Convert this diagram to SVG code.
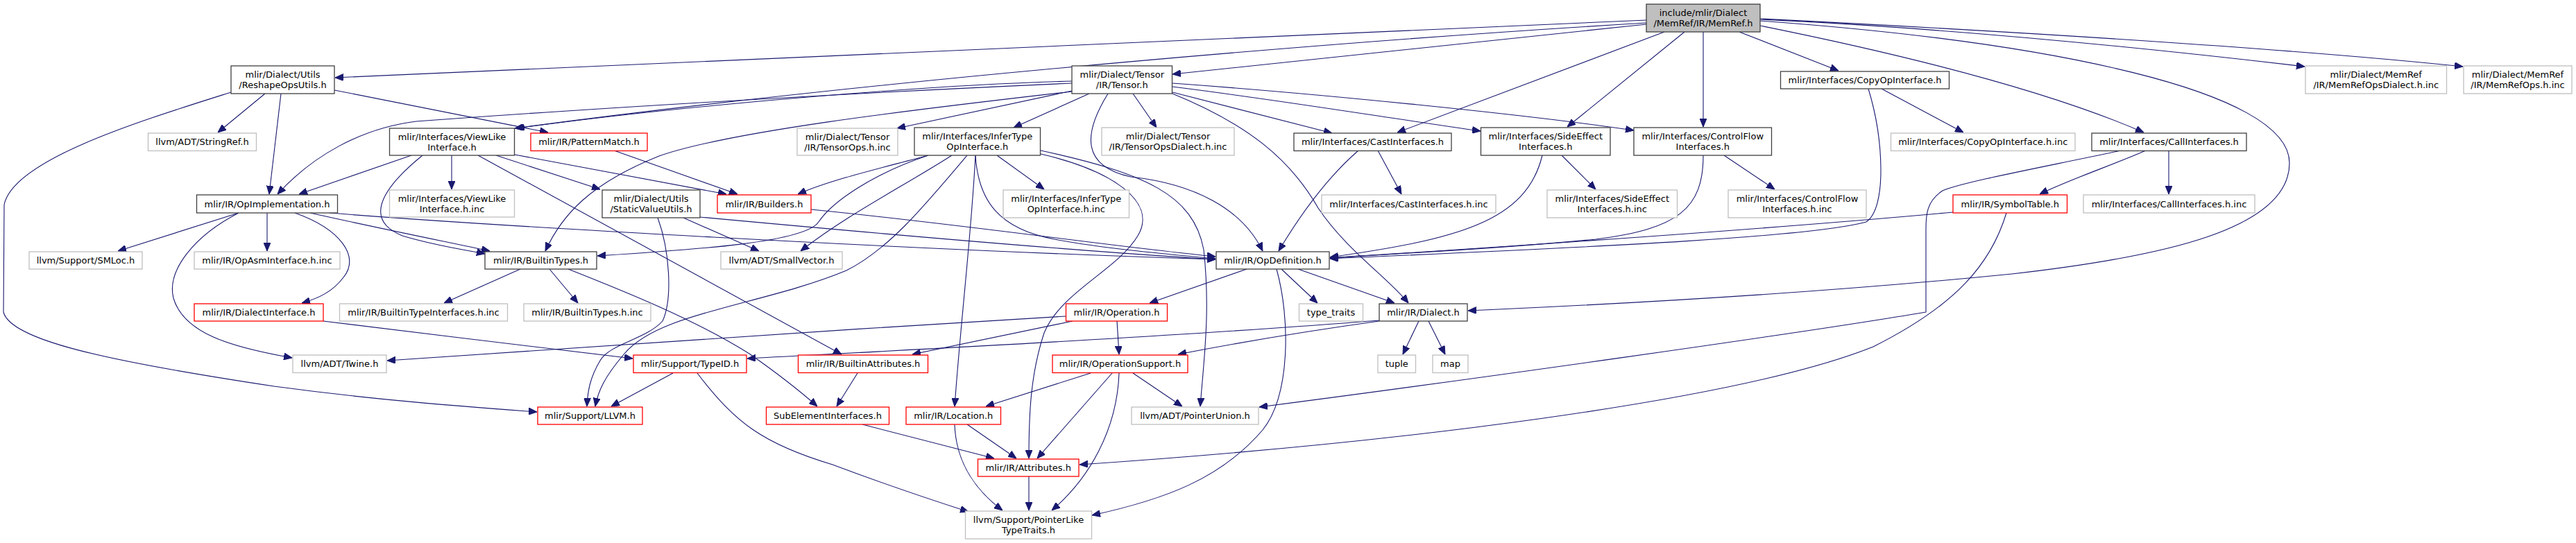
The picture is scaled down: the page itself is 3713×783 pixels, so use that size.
<svg xmlns="http://www.w3.org/2000/svg" width="3713" height="783" viewBox="0 0 3713 783">
<style>
.n rect{fill:#fff;stroke:#404040;stroke-width:1.3}
.n.g rect{stroke:#BFBFBF}
.n.r rect{stroke:#FF0000}
.n.root rect{fill:#BFBFBF}
text{font-family:"DejaVu Sans",sans-serif;font-size:13px;fill:#000;text-anchor:middle}
#edges path{fill:none;stroke:#191970;stroke-width:1.1;marker-end:url(#a)}
</style>
<defs>
<marker id="a" markerUnits="userSpaceOnUse" markerWidth="12" markerHeight="10" refX="12" refY="5" orient="auto" viewBox="0 0 12 10">
<path d="M0,0 L12,5 L0,10 z" fill="#191970" stroke="#191970" stroke-width="1"/>
</marker>
</defs>
<rect width="3713" height="783" fill="#fff"/>
<g id="edges">
<path d="M2373,29 L483,112"/>
<path d="M2373,35 L1690,107"/>
<path d="M2373,33 C2000,55 1300,110 742,185"/>
<path d="M2399,46 L2014,191"/>
<path d="M2428,46 L2259,183"/>
<path d="M2455,46 L2455,183"/>
<path d="M2507,46 L2650,102"/>
<path d="M2537,37 C2750,80 2950,130 3090,191"/>
<path d="M2537,30 C2950,60 3300,130 3300,235 C3300,330 3120,370 2900,395 C2600,425 2300,440 2116,448"/>
<path d="M2537,28 C2800,40 3100,70 3322,96"/>
<path d="M2537,27 C2900,45 3300,70 3550,96"/>
<path d="M1545,131 L1293,185"/>
<path d="M1570,135 L1461,184"/>
<path d="M1633,135 L1667,184"/>
<path d="M1597,135 C1560,195 1560,240 1630,255 C1720,265 1790,300 1820,362"/>
<path d="M1690,135 C1800,180 1860,230 1900,300 C1940,360 2000,400 2030,437"/>
<path d="M1690,120 C1900,135 2200,165 2355,188"/>
<path d="M1690,125 C1850,145 2000,170 2134,189"/>
<path d="M1690,133 L1920,192"/>
<path d="M1545,117 C1350,122 1000,150 744,185"/>
<path d="M1545,120 C1200,135 800,160 600,175 C520,185 450,225 400,280"/>
<path d="M1545,132 C1300,160 1050,190 950,225 C850,265 810,310 786,362"/>
<path d="M1338,224 C1280,240 1200,258 1150,280"/>
<path d="M1338,224 C1260,250 1200,290 1180,320 C1160,350 1000,360 861,369"/>
<path d="M1372,224 C1300,270 1220,310 1154,362"/>
<path d="M1394,224 C1330,300 1280,360 1220,390 C1100,440 950,450 900,510 C870,545 862,565 858,586"/>
<path d="M1406,224 C1400,340 1385,460 1376,586"/>
<path d="M1406,224 C1410,290 1440,330 1520,345 C1600,360 1700,368 1752,373"/>
<path d="M1437,224 L1505,273"/>
<path d="M1500,217 C1650,250 1720,280 1735,360 C1745,450 1735,520 1730,586"/>
<path d="M1500,222 C1600,245 1670,290 1640,340 C1610,390 1530,420 1505,480 C1485,540 1483,600 1483,661"/>
<path d="M1958,217 C1920,250 1880,300 1843,362"/>
<path d="M1986,217 L2020,280"/>
<path d="M2223,224 C2200,320 2100,345 1917,371"/>
<path d="M2251,224 L2300,273"/>
<path d="M2455,224 C2455,300 2420,330 2300,345 C2150,360 2000,366 1917,372"/>
<path d="M2485,224 L2558,273"/>
<path d="M2693,128 C2715,200 2720,300 2690,320 C2600,345 2200,360 1917,373"/>
<path d="M2712,128 L2830,191"/>
<path d="M3093,217 C3040,240 2980,260 2940,280"/>
<path d="M3126,217 L3126,280"/>
<path d="M3057,217 C2950,240 2830,262 2800,275 C2777,290 2776,310 2776,330 L2776,450 C2600,480 2100,550 1815,587"/>
<path d="M2815,306 C2500,335 2100,360 1917,372"/>
<path d="M2892,307 C2870,380 2820,440 2700,500 C2500,580 2000,640 1556,670"/>
<path d="M1797,388 L1657,437"/>
<path d="M1847,388 L1899,437"/>
<path d="M1871,388 L2010,437"/>
<path d="M1840,388 C1860,460 1860,570 1820,620 C1760,690 1680,720 1574,743"/>
<path d="M2045,463 L2022,511"/>
<path d="M2059,463 L2083,511"/>
<path d="M1988,462 C1700,485 1300,505 1077,517"/>
<path d="M1988,463 C1880,478 1780,495 1698,511"/>
<path d="M1536,456 C1200,475 800,505 558,520"/>
<path d="M1546,463 L1315,511"/>
<path d="M1610,463 L1613,511"/>
<path d="M1572,538 L1421,586"/>
<path d="M1603,538 L1495,661"/>
<path d="M1613,538 C1610,620 1570,690 1516,736"/>
<path d="M1633,538 L1704,586"/>
<path d="M1394,612 L1465,661"/>
<path d="M1376,612 C1378,670 1410,710 1445,736"/>
<path d="M1483,687 L1483,736"/>
<path d="M1243,612 L1433,661"/>
<path d="M1236,538 L1206,586"/>
<path d="M970,538 L881,586"/>
<path d="M1005,538 C1060,610 1100,640 1200,670 C1280,700 1340,720 1396,738"/>
<path d="M466,463 C600,480 800,503 912,517"/>
<path d="M750,388 L640,437"/>
<path d="M792,388 L833,437"/>
<path d="M819,388 C900,420 1000,460 1080,510 C1130,545 1160,570 1178,586"/>
<path d="M344,307 L170,362"/>
<path d="M385,307 L385,362"/>
<path d="M344,307 C280,340 240,390 250,430 C265,480 330,500 421,516"/>
<path d="M425,307 C490,330 520,370 495,400 C480,420 460,430 435,437"/>
<path d="M447,307 C550,330 650,350 706,362"/>
<path d="M475,307 C700,325 1300,360 1752,374"/>
<path d="M593,224 L431,280"/>
<path d="M609,224 C540,280 530,320 580,340 C630,355 670,360 699,366"/>
<path d="M651,224 L651,273"/>
<path d="M715,224 L865,273"/>
<path d="M742,223 L1047,280"/>
<path d="M689,224 L1213,511"/>
<path d="M885,217 L1063,280"/>
<path d="M1009,313 C1300,340 1550,362 1752,374"/>
<path d="M985,314 L1094,362"/>
<path d="M948,314 C965,360 970,430 955,463 C930,490 880,495 865,520 C850,545 847,565 846,586"/>
<path d="M1169,302 C1400,325 1600,355 1752,370"/>
<path d="M382,135 L314,191"/>
<path d="M405,135 L388,280"/>
<path d="M482,130 L790,191"/>
<path d="M333,133 C200,175 20,230 6,295 L5,450 C15,490 150,520 395,557 C550,578 680,587 774,594"/>
</g>
<g id="n1" class="n root"><rect x="2373" y="6" width="164" height="40"/><text x="2455" y="23">include/mlir/Dialect</text><text x="2455" y="38">/MemRef/IR/MemRef.h</text></g>
<g id="n2" class="n"><rect x="333" y="95" width="149" height="40"/><text x="407.5" y="112">mlir/Dialect/Utils</text><text x="407.5" y="127">/ReshapeOpsUtils.h</text></g>
<g id="n3" class="n g"><rect x="213.5" y="192" width="156" height="25.5"/><text x="291.5" y="209">llvm/ADT/StringRef.h</text></g>
<g id="n4" class="n"><rect x="283.5" y="281" width="203" height="26"/><text x="385" y="298.5">mlir/IR/OpImplementation.h</text></g>
<g id="n5" class="n g"><rect x="42" y="363" width="163" height="25"/><text x="123.5" y="380">llvm/Support/SMLoc.h</text></g>
<g id="n6" class="n g"><rect x="280" y="363" width="210" height="25"/><text x="385" y="380">mlir/IR/OpAsmInterface.h.inc</text></g>
<g id="n7" class="n"><rect x="561.5" y="185" width="180" height="39"/><text x="651.5" y="202">mlir/Interfaces/ViewLike</text><text x="651.5" y="217">Interface.h</text></g>
<g id="n8" class="n g"><rect x="561.5" y="274" width="180" height="39"/><text x="651.5" y="291">mlir/Interfaces/ViewLike</text><text x="651.5" y="306">Interface.h.inc</text></g>
<g id="n9" class="n r"><rect x="765" y="192" width="168" height="25.5"/><text x="849" y="209">mlir/IR/PatternMatch.h</text></g>
<g id="n10" class="n"><rect x="868" y="274" width="141" height="40"/><text x="938.5" y="291">mlir/Dialect/Utils</text><text x="938.5" y="306">/StaticValueUtils.h</text></g>
<g id="n11" class="n r"><rect x="1034" y="281" width="135" height="26"/><text x="1101.5" y="298.5">mlir/IR/Builders.h</text></g>
<g id="n12" class="n"><rect x="699" y="363" width="161" height="25"/><text x="779.5" y="380">mlir/IR/BuiltinTypes.h</text></g>
<g id="n13" class="n g"><rect x="1039" y="363" width="175" height="25"/><text x="1126.5" y="380">llvm/ADT/SmallVector.h</text></g>
<g id="n14" class="n g"><rect x="1149" y="185" width="145" height="39"/><text x="1221.5" y="202">mlir/Dialect/Tensor</text><text x="1221.5" y="217">/IR/TensorOps.h.inc</text></g>
<g id="n15" class="n"><rect x="1318" y="184" width="181.5" height="40"/><text x="1408.75" y="201">mlir/Interfaces/InferType</text><text x="1408.75" y="216">OpInterface.h</text></g>
<g id="n16" class="n"><rect x="1545" y="95" width="144.5" height="40"/><text x="1617.25" y="112">mlir/Dialect/Tensor</text><text x="1617.25" y="127">/IR/Tensor.h</text></g>
<g id="n17" class="n g"><rect x="1588" y="184" width="191" height="40"/><text x="1683.5" y="201">mlir/Dialect/Tensor</text><text x="1683.5" y="216">/IR/TensorOpsDialect.h.inc</text></g>
<g id="n18" class="n g"><rect x="1446" y="274" width="181.5" height="40"/><text x="1536.75" y="291">mlir/Interfaces/InferType</text><text x="1536.75" y="306">OpInterface.h.inc</text></g>
<g id="n19" class="n"><rect x="1753" y="363" width="163" height="25"/><text x="1834.5" y="380">mlir/IR/OpDefinition.h</text></g>
<g id="n20" class="n"><rect x="1865" y="192" width="227" height="25.5"/><text x="1978.5" y="209">mlir/Interfaces/CastInterfaces.h</text></g>
<g id="n21" class="n g"><rect x="1905" y="281" width="251" height="26"/><text x="2030.5" y="298.5">mlir/Interfaces/CastInterfaces.h.inc</text></g>
<g id="n22" class="n"><rect x="2134.5" y="184" width="186.5" height="40"/><text x="2227.75" y="201">mlir/Interfaces/SideEffect</text><text x="2227.75" y="216">Interfaces.h</text></g>
<g id="n23" class="n g"><rect x="2230" y="274" width="187.5" height="40"/><text x="2323.75" y="291">mlir/Interfaces/SideEffect</text><text x="2323.75" y="306">Interfaces.h.inc</text></g>
<g id="n24" class="n"><rect x="2355" y="184" width="198.5" height="40"/><text x="2454.25" y="201">mlir/Interfaces/ControlFlow</text><text x="2454.25" y="216">Interfaces.h</text></g>
<g id="n25" class="n g"><rect x="2491" y="274" width="199" height="40"/><text x="2590.5" y="291">mlir/Interfaces/ControlFlow</text><text x="2590.5" y="306">Interfaces.h.inc</text></g>
<g id="n26" class="n"><rect x="2566.5" y="103" width="243" height="25"/><text x="2688" y="120">mlir/Interfaces/CopyOpInterface.h</text></g>
<g id="n27" class="n g"><rect x="2725.5" y="192" width="265.5" height="25.5"/><text x="2858.25" y="209">mlir/Interfaces/CopyOpInterface.h.inc</text></g>
<g id="n28" class="n r"><rect x="2815" y="281" width="164.5" height="26"/><text x="2897.25" y="298.5">mlir/IR/SymbolTable.h</text></g>
<g id="n29" class="n"><rect x="3015" y="192" width="223" height="25.5"/><text x="3126.5" y="209">mlir/Interfaces/CallInterfaces.h</text></g>
<g id="n30" class="n g"><rect x="3003" y="281" width="247" height="26"/><text x="3126.5" y="298.5">mlir/Interfaces/CallInterfaces.h.inc</text></g>
<g id="n31" class="n g"><rect x="3323" y="95" width="203.5" height="40"/><text x="3424.75" y="112">mlir/Dialect/MemRef</text><text x="3424.75" y="127">/IR/MemRefOpsDialect.h.inc</text></g>
<g id="n32" class="n g"><rect x="3551" y="95" width="156" height="40"/><text x="3629" y="112">mlir/Dialect/MemRef</text><text x="3629" y="127">/IR/MemRefOps.h.inc</text></g>
<g id="n33" class="n r"><rect x="280" y="438" width="186" height="25"/><text x="373" y="455">mlir/IR/DialectInterface.h</text></g>
<g id="n34" class="n g"><rect x="489.5" y="438" width="242" height="25"/><text x="610.5" y="455">mlir/IR/BuiltinTypeInterfaces.h.inc</text></g>
<g id="n35" class="n g"><rect x="422" y="512" width="135" height="25.5"/><text x="489.5" y="529">llvm/ADT/Twine.h</text></g>
<g id="n36" class="n g"><rect x="755" y="438" width="183" height="25"/><text x="846.5" y="455">mlir/IR/BuiltinTypes.h.inc</text></g>
<g id="n37" class="n r"><rect x="913" y="512" width="163" height="25.5"/><text x="994.5" y="529">mlir/Support/TypeID.h</text></g>
<g id="n38" class="n r"><rect x="775" y="587" width="151" height="25"/><text x="850.5" y="604">mlir/Support/LLVM.h</text></g>
<g id="n39" class="n r"><rect x="1150.5" y="512" width="187" height="25.5"/><text x="1244" y="529">mlir/IR/BuiltinAttributes.h</text></g>
<g id="n40" class="n r"><rect x="1104.5" y="587" width="177" height="25"/><text x="1193" y="604">SubElementInterfaces.h</text></g>
<g id="n41" class="n r"><rect x="1536.5" y="438" width="146" height="25"/><text x="1609.5" y="455">mlir/IR/Operation.h</text></g>
<g id="n42" class="n r"><rect x="1517" y="512" width="195" height="25.5"/><text x="1614.5" y="529">mlir/IR/OperationSupport.h</text></g>
<g id="n43" class="n r"><rect x="1306" y="587" width="136.5" height="25"/><text x="1374.25" y="604">mlir/IR/Location.h</text></g>
<g id="n44" class="n g"><rect x="1631" y="587" width="183" height="25"/><text x="1722.5" y="604">llvm/ADT/PointerUnion.h</text></g>
<g id="n45" class="n r"><rect x="1409.5" y="662" width="145.5" height="25"/><text x="1482.25" y="679">mlir/IR/Attributes.h</text></g>
<g id="n46" class="n g"><rect x="1391.5" y="737" width="182" height="40"/><text x="1482.5" y="754">llvm/Support/PointerLike</text><text x="1482.5" y="769">TypeTraits.h</text></g>
<g id="n47" class="n g"><rect x="1872.5" y="438" width="92" height="25"/><text x="1918.5" y="455">type_traits</text></g>
<g id="n48" class="n"><rect x="1988" y="438" width="127" height="25"/><text x="2051.5" y="455">mlir/IR/Dialect.h</text></g>
<g id="n49" class="n g"><rect x="1986" y="512" width="54.5" height="25.5"/><text x="2013.25" y="529">tuple</text></g>
<g id="n50" class="n g"><rect x="2065" y="512" width="51" height="25.5"/><text x="2090.5" y="529">map</text></g>
</svg>
